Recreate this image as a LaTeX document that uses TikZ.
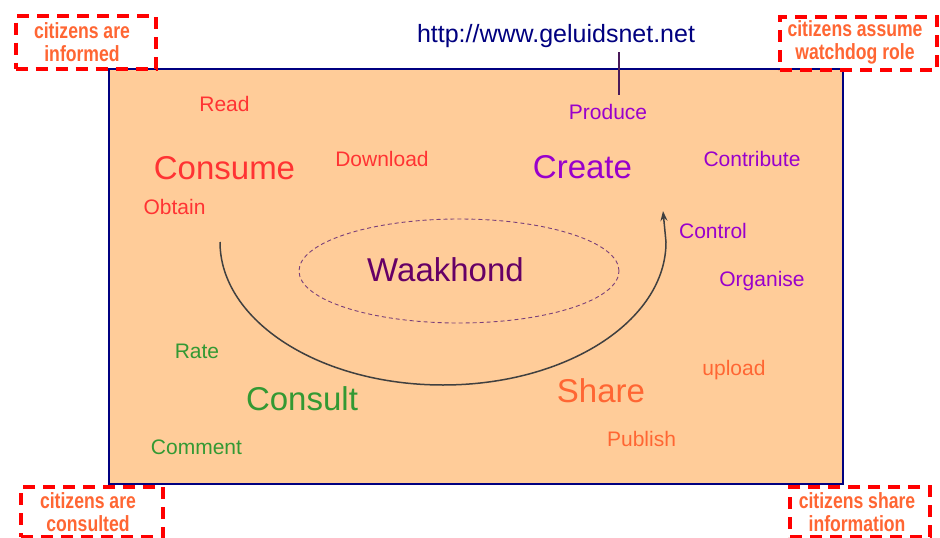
\documentclass[tikz,border=0pt]{standalone}
\usepackage{fontspec}
\setmainfont{Liberation Sans}
\newfontfamily\rolefont[FakeStretch=0.8]{Liberation Sans}
\usetikzlibrary{arrows.meta,shapes.geometric}
\definecolor{peach}{HTML}{FFCC99}
\definecolor{panelblue}{HTML}{000080}
\definecolor{conred}{HTML}{FF3333}
\definecolor{crpurple}{HTML}{9900CC}
\definecolor{cogreen}{HTML}{339933}
\definecolor{shorange}{HTML}{FF6633}
\definecolor{wkpurple}{HTML}{660066}
\definecolor{wkdash}{HTML}{7A3F7A}
\definecolor{boxred}{HTML}{FF0000}
\definecolor{arcgray}{HTML}{404040}
\definecolor{ticklilac}{HTML}{4A1A5A}
\begin{document}
\begin{tikzpicture}[x=1pt,y=-1pt,
  lbl/.style={anchor=base, inner sep=0pt, font=\fontsize{21}{25}\selectfont},
  big/.style={anchor=base, inner sep=0pt, font=\fontsize{33}{38}\selectfont},
  rolebox/.style={draw=boxred, line width=4pt, dash pattern=on 12pt off 8pt, inner sep=0pt, anchor=north west},
  roletext/.style={text=shorange, font=\rolefont\bfseries\fontsize{22}{23}\selectfont, align=center, inner sep=0pt},
  cyclearrow/.style={draw=arcgray, line width=1.5pt, -{Stealth[length=10pt,width=7pt]}},
]
\useasboundingbox (0,0) rectangle (940,538);
\fill[white] (0,0) rectangle (940,538);

% panel
\node[draw=panelblue, fill=peach, line width=1.6pt, inner sep=0pt, anchor=north west,
      minimum width=734pt, minimum height=415pt] (panel) at (108,68) {};

% url and tick
\node[anchor=base, inner sep=0pt, text=panelblue, font=\fontsize{25}{30}\selectfont] (url) at (556,42) {http://www.geluidsnet.net};
\coordinate (ticktop) at (619,52);
\coordinate (tickbot) at (619,95);
\draw[ticklilac, line width=1.4pt] (ticktop) -- (tickbot);

% watchdog ellipse
\node[ellipse, draw=wkdash, line width=0.9pt, dash pattern=on 4pt off 3pt,
      minimum width=320pt, minimum height=104pt, inner sep=0pt] (watch) at (459,271) {};
\node[big, text=wkpurple] (waak) at (445.5,281) {Waakhond};

% cycle arrow
\coordinate (cyclestart) at (220,242);
\coordinate (cycleend) at (663,211);
\path[cyclearrow] (cyclestart) arc[start angle=180, end angle=0, x radius=223, y radius=143] -- (cycleend);

% consume
\node[lbl, text=conred] (read) at (224.5,111) {Read};
\node[big, text=conred] (consume) at (224.5,179) {Consume};
\node[lbl, text=conred] (download) at (382,166) {Download};
\node[lbl, text=conred] (obtain) at (174.5,214) {Obtain};

% create
\node[lbl, text=crpurple] (produce) at (608,119) {Produce};
\node[big, text=crpurple] (create) at (582.5,178) {Create};
\node[lbl, text=crpurple] (contribute) at (752,166) {Contribute};
\node[lbl, text=crpurple] (control) at (713,238) {Control};
\node[lbl, text=crpurple] (organise) at (762,286) {Organise};

% consult
\node[lbl, text=cogreen] (rate) at (197,358) {Rate};
\node[big, text=cogreen] (consult) at (302,410) {Consult};
\node[lbl, text=cogreen] (comment) at (196.5,454) {Comment};

% share
\node[lbl, text=shorange] (upload) at (734,375) {upload};
\node[big, text=shorange] (share) at (601,402) {Share};
\node[lbl, text=shorange] (publish) at (641.5,446) {Publish};

% role boxes
\node[rolebox, minimum width=140pt, minimum height=53pt] (informed) at (13.5,13.5) {};
\node[roletext] (informedtxt) at (82,42) {citizens are\\informed};
\node[rolebox, minimum width=157pt, minimum height=53pt] (watchdog) at (778,15) {};
\node[roletext] (watchdogtxt) at (855,42) {citizens assume\\watchdog role};
\node[rolebox, minimum width=142pt, minimum height=50pt] (consulted) at (19,485) {};
\node[roletext] (consultedtxt) at (88,512) {citizens are\\consulted};
\node[rolebox, minimum width=140pt, minimum height=50pt] (shareinfo) at (788,485) {};
\node[roletext] (shareinfotxt) at (857,512) {citizens share\\information};
\end{tikzpicture}
\end{document}
